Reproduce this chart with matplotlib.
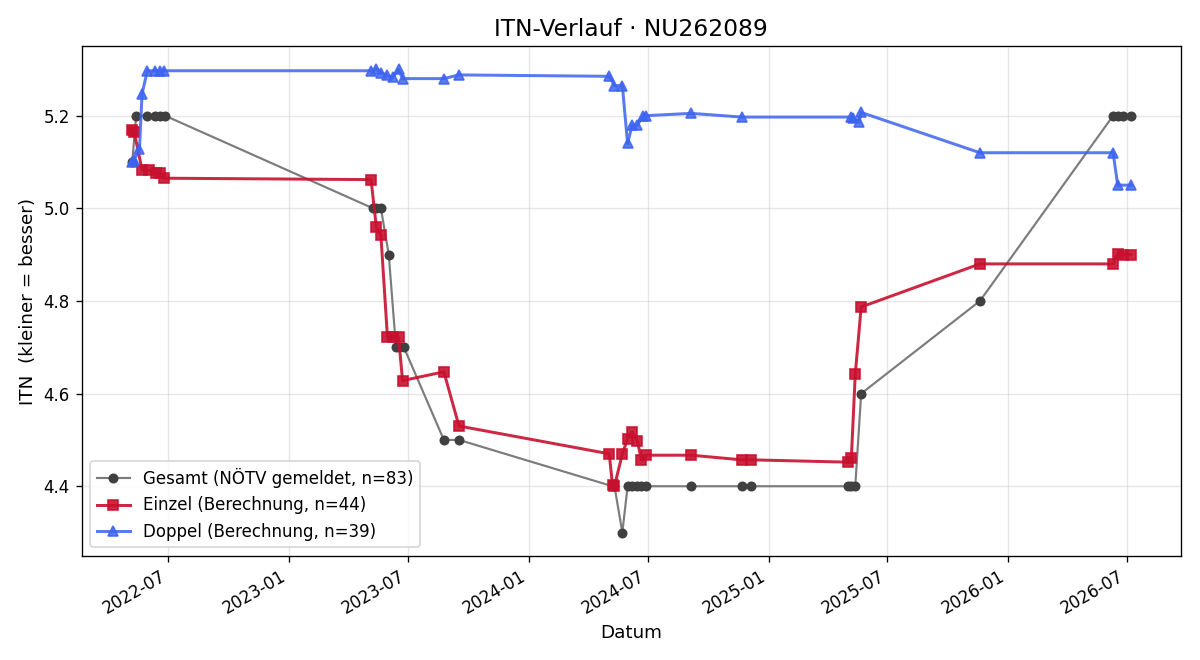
import pandas as pd
import matplotlib
matplotlib.use("Agg")
import matplotlib.pyplot as plt
import matplotlib.dates as mdates

# Gesamt (NÖTV gemeldet)
gesamt_dates = ["2022-05-07", "2022-05-13", "2022-05-30", "2022-06-11", "2022-06-18", "2022-06-26",
                "2023-05-09", "2023-05-14", "2023-05-21", "2023-06-02", "2023-06-13", "2023-06-17",
                "2023-06-25", "2023-08-25", "2023-09-17", "2024-05-08", "2024-05-11", "2024-05-23",
                "2024-05-31", "2024-06-07", "2024-06-15", "2024-06-21", "2024-06-28", "2024-09-05",
                "2024-11-21", "2024-12-05", "2025-05-02", "2025-05-07", "2025-05-13", "2025-05-22",
                "2025-11-19", "2026-06-10", "2026-06-17", "2026-06-25", "2026-07-07"]
gesamt_vals = [5.1, 5.2, 5.2, 5.2, 5.2, 5.2,
               5.0, 5.0, 5.0, 4.9, 4.7, 4.7,
               4.7, 4.5, 4.5, 4.4, 4.4, 4.3,
               4.4, 4.4, 4.4, 4.4, 4.4, 4.4,
               4.4, 4.4, 4.4, 4.4, 4.4, 4.6,
               4.8, 5.2, 5.2, 5.2, 5.2]

# Einzel (Berechnung)
einzel_dates = ["2022-05-06", "2022-05-10", "2022-05-22", "2022-06-01", "2022-06-13", "2022-06-18",
                "2022-06-25", "2023-05-06", "2023-05-14", "2023-05-21", "2023-05-31", "2023-06-08",
                "2023-06-17", "2023-06-23", "2023-08-25", "2023-09-17", "2024-05-03", "2024-05-08",
                "2024-05-11", "2024-05-23", "2024-05-31", "2024-06-07", "2024-06-15", "2024-06-21",
                "2024-06-28", "2024-09-05", "2024-11-21", "2024-12-05", "2025-05-02", "2025-05-07",
                "2025-05-13", "2025-05-22", "2025-11-19", "2026-06-10", "2026-06-17", "2026-06-25",
                "2026-07-07"]
einzel_vals = [5.17, 5.165, 5.083, 5.082, 5.077, 5.077,
               5.065, 5.062, 4.96, 4.942, 4.722, 4.722,
               4.722, 4.628, 4.647, 4.53, 4.47, 4.403,
               4.40, 4.47, 4.503, 4.517, 4.497, 4.457,
               4.467, 4.467, 4.457, 4.457, 4.452, 4.46,
               4.642, 4.787, 4.88, 4.88, 4.902, 4.90,
               4.90]

# Doppel (Berechnung)
doppel_dates = ["2022-05-07", "2022-05-10", "2022-05-18", "2022-05-22", "2022-05-30", "2022-06-11",
                "2022-06-18", "2022-06-25", "2023-05-06", "2023-05-14", "2023-05-21", "2023-05-31",
                "2023-06-08", "2023-06-17", "2023-06-23", "2023-08-25", "2023-09-17", "2024-05-03",
                "2024-05-11", "2024-05-23", "2024-05-31", "2024-06-07", "2024-06-15", "2024-06-24",
                "2024-06-28", "2024-09-05", "2024-11-21", "2025-05-06", "2025-05-09", "2025-05-19",
                "2025-05-22", "2025-11-19", "2026-06-10", "2026-06-17", "2026-07-07"]
doppel_vals = [5.10, 5.105, 5.127, 5.247, 5.297, 5.297,
               5.297, 5.297, 5.297, 5.30, 5.293, 5.287,
               5.283, 5.30, 5.28, 5.28, 5.288, 5.285,
               5.265, 5.265, 5.14, 5.18, 5.18, 5.20,
               5.20, 5.205, 5.197, 5.197, 5.196, 5.187,
               5.207, 5.12, 5.12, 5.05, 5.05]

fig, ax = plt.subplots(figsize=(10, 5.5), dpi=120)

ax.plot(pd.to_datetime(gesamt_dates), gesamt_vals, marker="o", ms=5, lw=1.3,
        color="#7c7c7c", mfc="#404040", mec="#404040",
        label="Gesamt (NÖTV gemeldet, n=83)")
ax.plot(pd.to_datetime(einzel_dates), einzel_vals, marker="s", ms=6, lw=1.8,
        color="#c8102e", alpha=0.9, label="Einzel (Berechnung, n=44)")
ax.plot(pd.to_datetime(doppel_dates), doppel_vals, marker="^", ms=6, lw=1.8,
        color="#3d63f0", alpha=0.85, label="Doppel (Berechnung, n=39)")

ax.set_title("ITN-Verlauf · NU262089", fontsize=14)
ax.set_xlabel("Datum", fontsize=11)
ax.set_ylabel("ITN  (kleiner = besser)", fontsize=11)
ax.xaxis.set_major_locator(mdates.MonthLocator(bymonth=[1, 7]))
ax.xaxis.set_major_formatter(mdates.DateFormatter("%Y-%m"))
ax.grid(True, alpha=0.3)
ax.legend(loc="lower left", fontsize=10)
fig.autofmt_xdate()

plt.subplots_adjust(left=0.068, right=0.984, top=0.930, bottom=0.158)
plt.savefig("out.png", dpi=120)
